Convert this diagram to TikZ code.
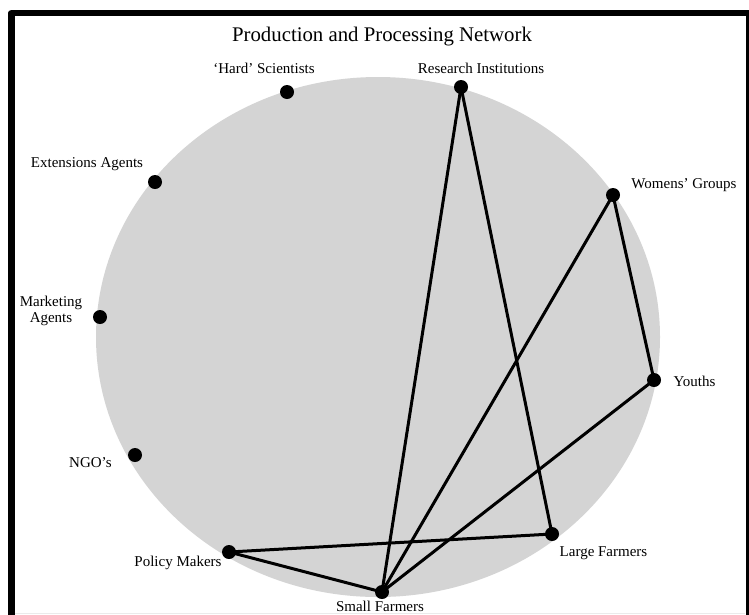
\documentclass[tikz,border=0pt]{standalone}
\usepackage{fontspec}
\setmainfont{Liberation Serif}
\definecolor{discfill}{RGB}{212,212,212}
\definecolor{edgeline}{RGB}{235,235,235}
\begin{document}
\begin{tikzpicture}[x=1pt,y=-1pt,
  actor/.style={circle,fill=black,inner sep=0pt,minimum size=14pt},
  lbl/.style={anchor=base,inner sep=0pt,font=\fontsize{15}{17}\selectfont},
  tie/.style={line width=3pt,black,line cap=round}]
\useasboundingbox (0,0) rectangle (749,614);
\clip (0,0) rectangle (749,614);
\fill[white] (0,0) rectangle (749,614);

% frame
\draw[line width=6.5pt,line join=round] (11.5,640) -- (11.5,13) -- (749,13) -- (749,640);
\draw[edgeline,line width=1pt] (15,613) -- (745,613);

% title
\node[anchor=base,inner sep=0pt,font=\fontsize{20.8}{24}\selectfont] (title) at (382,41) {Production and Processing Network};

% background disc
\fill[discfill] (378,337) ellipse [x radius=282, y radius=260];

% actors
\node[actor] (hard) at (287,92) {};
\node[actor] (res) at (461,87) {};
\node[actor] (women) at (613,195) {};
\node[actor] (youth) at (654,380) {};
\node[actor] (large) at (552,534) {};
\node[actor] (small) at (382,592) {};
\node[actor] (policy) at (229,552) {};
\node[actor] (ngo) at (135,455) {};
\node[actor] (market) at (100,317) {};
\node[actor] (ext) at (155,182) {};

% ties
\draw[tie] (res.center) -- (large.center);
\draw[tie] (res.center) -- (small.center);
\draw[tie] (women.center) -- (small.center);
\draw[tie] (women.center) -- (youth.center);
\draw[tie] (youth.center) -- (small.center);
\draw[tie] (policy.center) -- (large.center);
\draw[tie] (policy.center) -- (small.center);

% labels
\node[lbl] (hardl) at (264,73) {`Hard' Scientists};
\node[lbl] (resl) at (481,73) {Research Institutions};
\node[lbl] (extl) at (87,167) {Extensions Agents};
\node[lbl] (marketl1) at (51,306) {Marketing};
\node[lbl] (marketl2) at (51,322) {Agents};
\node[lbl] (ngol) at (90.5,467) {NGO's};
\node[lbl] (policyl) at (178,566) {Policy Makers};
\node[lbl] (womenl) at (684,188) {Womens' Groups};
\node[lbl] (youthl) at (694.5,386) {Youths};
\node[lbl] (largel) at (603.5,556) {Large Farmers};
\node[lbl] (smalll) at (380,611) {Small Farmers};
\end{tikzpicture}
\end{document}
